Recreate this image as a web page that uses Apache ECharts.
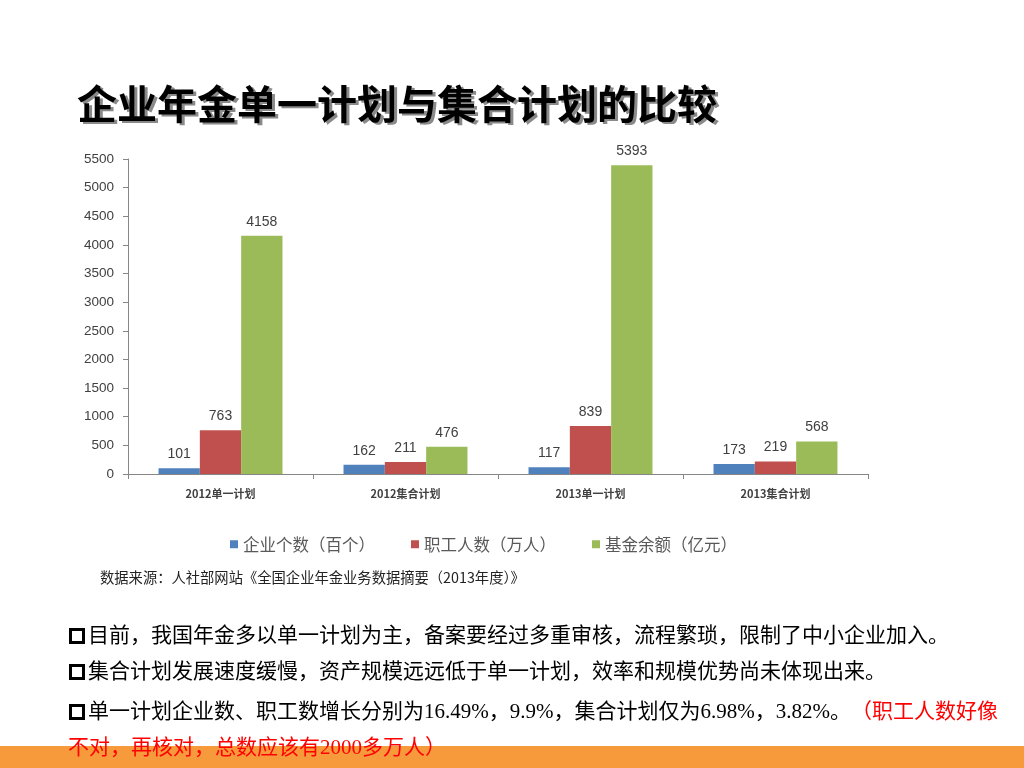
<!DOCTYPE html>
<html>
<head>
<meta charset="utf-8">
<script src="https://cdn.jsdelivr.net/npm/echarts@6/dist/echarts.min.js"></script>
<style>
html,body{margin:0;padding:0;background:#fff;}
#c{width:1024px;height:768px;}
</style>
</head>
<body>
<div id="c"></div>
<script>
const categories = ['2012单一计划', '2012集合计划', '2013单一计划', '2013集合计划'];
const seriesNames = ['企业个数（百个）', '职工人数（万人）', '基金余额（亿元）'];
const enterprises = [101, 162, 117, 173];
const employees = [763, 211, 839, 219];
const funds = [4158, 476, 5393, 568];
const yTicks = { min: 0, max: 5500, interval: 500 };

const titleText = '企业年金单一计划与集合计划的比较';
const sourceText = '数据来源：人社部网站《全国企业年金业务数据摘要（2013年度）》';
const bullet1 = '目前，我国年金多以单一计划为主，备案要经过多重审核，流程繁琐，限制了中小企业加入。';
const bullet2 = '集合计划发展速度缓慢，资产规模远远低于单一计划，效率和规模优势尚未体现出来。';
const bullet3a = '单一计划企业数、职工数增长分别为16.49%，9.9%，集合计划仅为6.98%，3.82%。';
const bullet3b = '（职工人数好像';
const bullet3c = '不对，再核对，总数应该有2000多万人）';

const colors = ['#4F81BD', '#C0504D', '#9BBB59'];
const chart = echarts.init(document.getElementById('c'));
const cjk = '"Noto Sans CJK SC", sans-serif';
const serifMix = '"Liberation Serif", "Noto Sans CJK SC", serif';
const lbl = { show: true, position: 'top', distance: 7, color: '#404040', fontSize: 14, fontFamily: '"Liberation Sans", Arial, sans-serif' };

function square(y) {
  return { type: 'rect', shape: { x: 70.5, y: y - 6.5, width: 13, height: 13 }, style: { fill: '#fff', stroke: '#000', lineWidth: 3 } };
}
function line(x, y, text, fill) {
  return { type: 'text', x: x, y: y, style: { text: text, fill: fill || '#000', font: '21px ' + serifMix, verticalAlign: 'middle', align: 'left' } };
}

chart.setOption({
  animation: false,
  color: colors,
  grid: { left: 128, right: 156, top: 159, bottom: 294, containLabel: false },
  legend: {
    left: 225, top: 531,
    itemWidth: 8, itemHeight: 8, itemGap: 36,
    icon: 'rect',
    textStyle: { fontSize: 16.5, color: '#595959', fontFamily: cjk },
    data: seriesNames
  },
  xAxis: {
    type: 'category', data: categories,
    axisLine: { lineStyle: { color: '#868686', width: 1 } },
    axisTick: { show: true, length: 5, lineStyle: { color: '#868686' } },
    axisLabel: { margin: 14, fontSize: 11, fontWeight: 'bold', color: '#404040', fontFamily: cjk }
  },
  yAxis: {
    type: 'value', min: yTicks.min, max: yTicks.max, interval: yTicks.interval,
    axisLine: { show: true, lineStyle: { color: '#868686', width: 1 } },
    axisTick: { show: true, length: 5, lineStyle: { color: '#868686' } },
    splitLine: { show: false },
    axisLabel: { margin: 14, fontSize: 13.5, color: '#404040', fontFamily: '"Liberation Sans", Arial, sans-serif', formatter: function (v) { return String(v); } }
  },
  series: [
    { name: seriesNames[0], type: 'bar', data: enterprises, barGap: '0%', barCategoryGap: '33%', label: lbl },
    { name: seriesNames[1], type: 'bar', data: employees, barGap: '0%', barCategoryGap: '33%', label: lbl },
    { name: seriesNames[2], type: 'bar', data: funds, barGap: '0%', barCategoryGap: '33%', label: lbl }
  ],
  graphic: [
    { type: 'rect', shape: { x: 0, y: 746, width: 1024, height: 22 }, style: { fill: '#F79A3C' }, z: -1 },
    { type: 'text', x: 80, y: 106, style: { text: titleText, fill: '#8a8a8a', font: 'bold 40px ' + cjk, verticalAlign: 'middle' } },
    { type: 'text', x: 77, y: 104, style: { text: titleText, fill: '#000', font: 'bold 40px ' + cjk, verticalAlign: 'middle' } },
    { type: 'text', x: 100, y: 578, style: { text: sourceText, fill: '#222', font: '14.3px ' + cjk, verticalAlign: 'middle' } },
    square(636), line(88, 636, bullet1),
    square(672), line(88, 672, bullet2),
    square(712),
    { type: 'text', x: 88, y: 712, style: {
        text: '{b|' + bullet3a + '}{r|' + bullet3b + '}',
        font: '21px ' + serifMix, verticalAlign: 'middle',
        rich: { b: { fill: '#000', fontSize: 21, fontFamily: serifMix }, r: { fill: '#FF0000', fontSize: 21, fontFamily: serifMix } }
    } },
    line(68, 748, bullet3c, '#FF0000')
  ]
});
</script>
</body>
</html>
